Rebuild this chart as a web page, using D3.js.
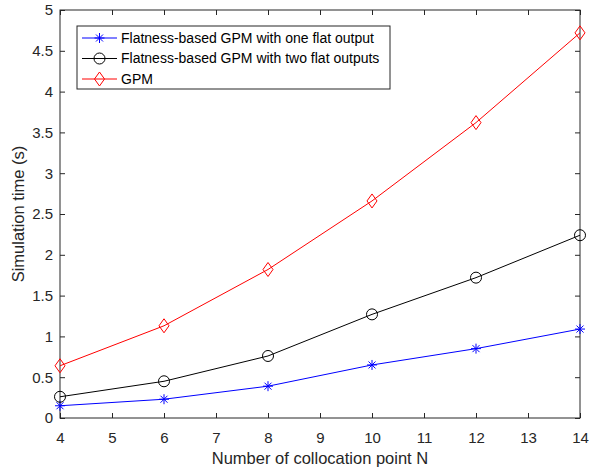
<!DOCTYPE html>
<html>
<head>
<meta charset="utf-8">
<script src="https://cdn.jsdelivr.net/npm/d3@7"></script>
<style>
  body { margin: 0; background: #fff; }
  text { font-family: "Liberation Sans", Arial, sans-serif; }
</style>
</head>
<body>
<div id="chart"></div>
<script>
var xVals = [4, 6, 8, 10, 12, 14];
var oneFlat = [0.15, 0.23, 0.39, 0.65, 0.85, 1.09];
var twoFlat = [0.26, 0.45, 0.76, 1.27, 1.72, 2.24];
var gpm = [0.64, 1.13, 1.82, 2.66, 3.62, 4.72];
var seriesNames = ["Flatness-based GPM with one flat output",
                   "Flatness-based GPM with two flat outputs",
                   "GPM"];
var xTicks = d3.range(4, 15, 1);
var yTicks = d3.range(0, 5.01, 0.5);

var W = 589, H = 471;
var m = {left: 60, right: 9, top: 10, bottom: 53};
var w = W - m.left - m.right, h = H - m.top - m.bottom;

var svg = d3.select("#chart").append("svg")
    .attr("width", W).attr("height", H);
var g = svg.append("g").attr("transform", "translate(" + m.left + "," + m.top + ")");

var x = d3.scaleLinear().domain([4, 14]).range([0, w]);
var y = d3.scaleLinear().domain([0, 5]).range([h, 0]);

var axisColor = "#262626";
function styleAxis(sel, noLabels) {
  sel.select(".domain").remove();
  sel.selectAll("line").attr("stroke", axisColor);
  sel.selectAll("text").attr("fill", axisColor).style("font-size", "15px");
  if (noLabels) sel.selectAll("text").remove();
}

g.append("g").attr("transform", "translate(0," + h + ")")
  .call(d3.axisBottom(x).tickValues(xTicks).tickSize(-5).tickPadding(14).tickFormat(d3.format("d")))
  .call(styleAxis);
g.append("g")
  .call(d3.axisTop(x).tickValues(xTicks).tickSize(-5))
  .call(styleAxis, true);
g.append("g")
  .call(d3.axisLeft(y).tickValues(yTicks).tickSize(-5).tickPadding(7).tickFormat(function(d){ return d3.format("")(d); }))
  .call(styleAxis);
g.append("g").attr("transform", "translate(" + w + ",0)")
  .call(d3.axisRight(y).tickValues(yTicks).tickSize(-5))
  .call(styleAxis, true);

g.append("rect").attr("width", w).attr("height", h)
  .attr("fill", "none").attr("stroke", axisColor).attr("stroke-width", 1);

var series = [
  {name: seriesNames[0], vals: oneFlat, color: "#0000ff", marker: "star"},
  {name: seriesNames[1], vals: twoFlat, color: "#000000", marker: "circle"},
  {name: seriesNames[2], vals: gpm, color: "#ff0000", marker: "diamond"}
];

function drawMarker(sel, type, color) {
  if (type === "circle") {
    sel.append("circle").attr("r", 5.5).attr("fill", "none").attr("stroke", color).attr("stroke-width", 1);
  } else if (type === "diamond") {
    sel.append("path").attr("d", "M0,-7L5,0L0,7L-5,0Z").attr("fill", "none").attr("stroke", color).attr("stroke-width", 1);
  } else {
    var r = 5;
    var d = "M0,-" + r + "V" + r + "M-" + r + ",0H" + r +
      "M-3.5,-3.5L3.5,3.5M-3.5,3.5L3.5,-3.5";
    sel.append("path").attr("d", d).attr("fill", "none").attr("stroke", color).attr("stroke-width", 1);
  }
}

var line = d3.line().x(function(d, i){ return x(xVals[i]); }).y(function(d){ return y(d); });

series.forEach(function(s) {
  g.append("path").datum(s.vals).attr("d", line)
    .attr("fill", "none").attr("stroke", s.color).attr("stroke-width", 1);
  g.selectAll(null).data(s.vals).enter().append("g")
    .attr("transform", function(d, i){ return "translate(" + x(xVals[i]) + "," + y(d) + ")"; })
    .each(function(){ drawMarker(d3.select(this), s.marker, s.color); });
});

// legend
var lg = svg.append("g").attr("transform", "translate(77,26)");
lg.append("rect").attr("width", 313).attr("height", 63)
  .attr("fill", "#fff").attr("stroke", axisColor).attr("stroke-width", 1);
series.forEach(function(s, i) {
  var row = lg.append("g").attr("transform", "translate(0," + (12 + i * 20.5) + ")");
  row.append("line").attr("x1", 5).attr("x2", 40).attr("stroke", s.color).attr("stroke-width", 1);
  var mk = row.append("g").attr("transform", "translate(22.5,0)");
  drawMarker(mk, s.marker, s.color);
  row.append("text").attr("x", 44).attr("y", 0).attr("dy", "0.35em")
    .style("font-size", "14px").attr("fill", "#000").text(s.name);
});

// axis labels
svg.append("text").attr("x", m.left + w / 2).attr("y", 464)
  .attr("text-anchor", "middle").style("font-size", "16.5px").attr("fill", axisColor)
  .text("Number of collocation point N");
svg.append("text").attr("transform", "translate(24," + (m.top + h / 2) + ") rotate(-90)")
  .attr("text-anchor", "middle").style("font-size", "16.5px").attr("fill", axisColor)
  .text("Simulation time (s)");
</script>
</body>
</html>
